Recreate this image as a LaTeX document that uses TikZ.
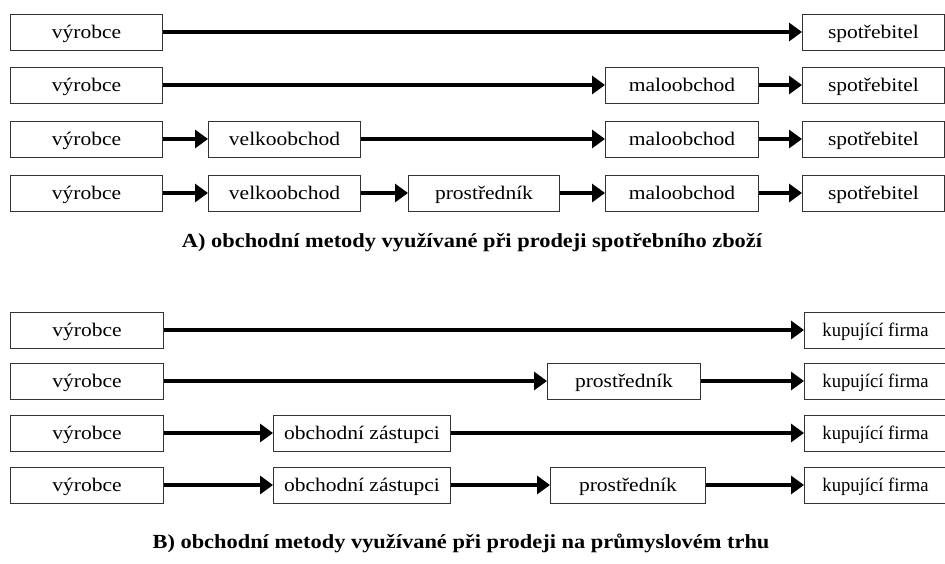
\documentclass[tikz,border=0pt]{standalone}
\usepackage{fontspec}
\setmainfont[FakeStretch=1.12]{Liberation Serif}
\newfontfamily\firmfont[FakeStretch=0.97]{Liberation Serif}
\usetikzlibrary{arrows.meta,positioning}
\tikzstyle{box} = [draw=black!80, line width=1pt, minimum height=36pt, inner sep=0pt, text height=15pt, text depth=3pt, anchor=west, font=\fontsize{19.2}{23}\selectfont]
\tikzstyle{firm} = [box, minimum width=142pt, font=\firmfont\fontsize{19.2}{23}\selectfont]
\tikzstyle{arrow} = [line width=4pt,-{Triangle[length=13pt,width=18pt]}]
\tikzstyle{caption} = [font=\bfseries\fontsize{20}{24}\selectfont]

\begin{document}
\begin{tikzpicture}[x=1pt,y=-1pt]
\useasboundingbox (0,0) rectangle (945,563);
% A) spotrebni zbozi
\node[box, minimum width=152pt] (a1v) at (10,32) {výrobce};
\node[box, minimum width=142pt] (a1s) at (802,32) {spotřebitel};
\draw[arrow] (a1v) -- (a1s);

\node[box, minimum width=152pt] (a2v) at (10,85) {výrobce};
\node[box, minimum width=153pt] (a2m) at (605,85) {maloobchod};
\node[box, minimum width=142pt] (a2s) at (802,85) {spotřebitel};
\draw[arrow] (a2v) -- (a2m);
\draw[arrow] (a2m) -- (a2s);

\node[box, minimum width=152pt] (a3v) at (10,139) {výrobce};
\node[box, minimum width=152pt] (a3vel) at (208,139) {velkoobchod};
\node[box, minimum width=153pt] (a3m) at (605,139) {maloobchod};
\node[box, minimum width=142pt] (a3s) at (802,139) {spotřebitel};
\draw[arrow] (a3v) -- (a3vel);
\draw[arrow] (a3vel) -- (a3m);
\draw[arrow] (a3m) -- (a3s);

\node[box, minimum width=152pt] (a4v) at (10,193) {výrobce};
\node[box, minimum width=152pt] (a4vel) at (208,193) {velkoobchod};
\node[box, minimum width=151pt] (a4p) at (408,193) {prostředník};
\node[box, minimum width=153pt] (a4m) at (605,193) {maloobchod};
\node[box, minimum width=142pt] (a4s) at (802,193) {spotřebitel};
\draw[arrow] (a4v) -- (a4vel);
\draw[arrow] (a4vel) -- (a4p);
\draw[arrow] (a4p) -- (a4m);
\draw[arrow] (a4m) -- (a4s);

\node[caption] (capA) at (472,243) {A) obchodní metody využívané při prodeji spotřebního zboží};

% B) prumyslovy trh
\node[box, minimum width=153pt] (b1v) at (10,330) {výrobce};
\node[firm] (b1k) at (804,330) {kupující firma};
\draw[arrow] (b1v) -- (b1k);

\node[box, minimum width=153pt] (b2v) at (10,381) {výrobce};
\node[box, minimum width=153pt] (b2p) at (547,381) {prostředník};
\node[firm] (b2k) at (804,381) {kupující firma};
\draw[arrow] (b2v) -- (b2p);
\draw[arrow] (b2p) -- (b2k);

\node[box, minimum width=153pt] (b3v) at (10,433) {výrobce};
\node[box, minimum width=177pt] (b3z) at (273,433) {obchodní zástupci};
\node[firm] (b3k) at (804,433) {kupující firma};
\draw[arrow] (b3v) -- (b3z);
\draw[arrow] (b3z) -- (b3k);

\node[box, minimum width=153pt] (b4v) at (10,485) {výrobce};
\node[box, minimum width=177pt] (b4z) at (273,485) {obchodní zástupci};
\node[box, minimum width=155pt] (b4p) at (550,485) {prostředník};
\node[firm] (b4k) at (804,485) {kupující firma};
\draw[arrow] (b4v) -- (b4z);
\draw[arrow] (b4z) -- (b4p);
\draw[arrow] (b4p) -- (b4k);

\node[caption] (capB) at (461,543) {B) obchodní metody využívané při prodeji na průmyslovém trhu};
\end{tikzpicture}
\end{document}
